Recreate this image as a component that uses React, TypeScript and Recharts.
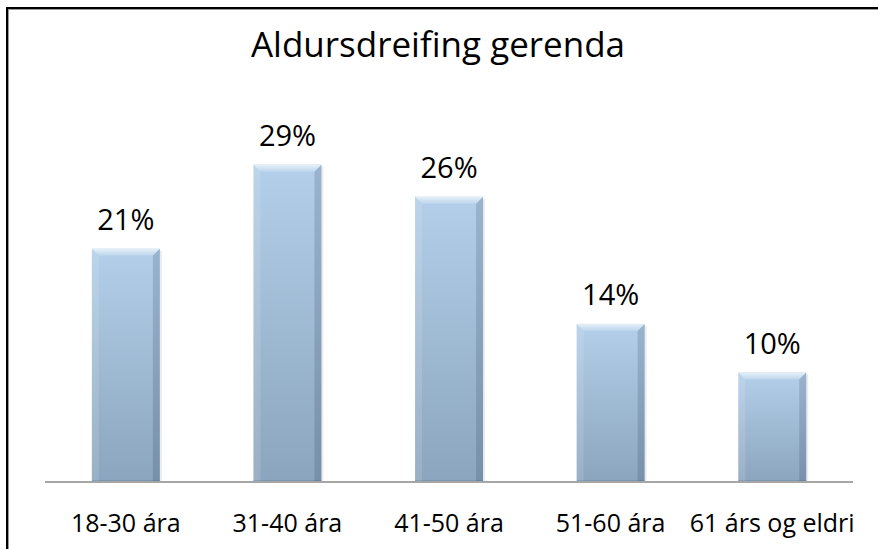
import React from "react";
import { BarChart, Bar, XAxis, YAxis, LabelList } from "recharts";

const categories = ["18-30 ára", "31-40 ára", "41-50 ára", "51-60 ára", "61 árs og eldri"];
const shares = [21.1, 28.7, 25.8, 14.3, 9.9];
const title = "Aldursdreifing gerenda";

const data = categories.map((c, i) => ({ name: c, value: shares[i] }));

const FONT = "'Open Sans', sans-serif";

const BevelBar = (props: any) => {
  const { x, y, width: w, height: h } = props;
  if (!h || h <= 0) return null;
  const b = 7;
  return (
    <g>
      <rect x={x + w} y={y + 2} width={2} height={h - 2} fill="rgba(0,0,0,0.08)" />
      <rect x={x} y={y} width={w} height={h} fill="url(#barBody)" />
      <polygon
        points={`${x},${y} ${x + w},${y} ${x + w - b},${y + b} ${x + b},${y + b}`}
        fill="url(#barTop)"
      />
      <polygon
        points={`${x},${y} ${x + b},${y + b} ${x + b},${y + h} ${x},${y + h}`}
        fill="rgba(255,255,255,0.12)"
      />
      <polygon
        points={`${x + w},${y} ${x + w - b},${y + b} ${x + w - b},${y + h} ${x + w},${y + h}`}
        fill="rgba(20,40,70,0.16)"
      />
      <rect x={x} y={y + h - 2} width={w} height={2} fill="rgba(20,40,70,0.12)" />
    </g>
  );
};

const ValueLabel = (props: any) => {
  const { x, y, width, value } = props;
  return (
    <text x={x + width / 2} y={y - 19} textAnchor="middle" fontFamily={FONT} fontSize={29} fill="#000">
      {Math.round(value)}%
    </text>
  );
};

const Tick = (props: any) => {
  const { x, y, payload } = props;
  return (
    <text x={x} y={y + 42} textAnchor="middle" fontFamily={FONT} fontSize={25} fill="#000">
      {payload.value}
    </text>
  );
};

export default function App() {
  return (
    <div style={{ position: "absolute", left: 0, top: 0, width: 878, height: 549, background: "#fff", overflow: "hidden" }}>
      <div
        style={{
          position: "absolute",
          left: 6,
          top: 7,
          width: 900,
          height: 600,
          borderTop: "2px solid #000",
          borderLeft: "2px solid #000",
        }}
      />
      <div
        style={{
          position: "absolute",
          left: 8,
          top: 9,
          width: 900,
          height: 600,
          borderTop: "1px solid #999",
          borderLeft: "1px solid #999",
        }}
      />
      <svg style={{ position: "absolute", left: 0, top: 0 }} width={878} height={549}>
        <text x={438} y={57} textAnchor="middle" fontFamily={FONT} fontSize={35} fill="#000">
          {title}
        </text>
      </svg>
      <div style={{ position: "absolute", left: 0, top: 0 }}>
        <BarChart
          width={878}
          height={549}
          data={data}
          margin={{ top: 95, right: 25, bottom: 27, left: 45 }}
          barCategoryGap="29%"
        >
          <defs>
            <linearGradient id="barBody" x1="0" y1="0" x2="0" y2="1">
              <stop offset="0%" stopColor="#b4cfe9" />
              <stop offset="100%" stopColor="#8ba5be" />
            </linearGradient>
            <linearGradient id="barTop" x1="0" y1="0" x2="0" y2="1">
              <stop offset="0%" stopColor="#e6f0f8" />
              <stop offset="100%" stopColor="#bcd5ec" />
            </linearGradient>
          </defs>
          <YAxis hide domain={[0, 35]} />
          <XAxis
            dataKey="name"
            height={40}
            axisLine={{ stroke: "#a6a6a6", strokeWidth: 2 }}
            tickLine={false}
            tick={<Tick />}
            interval={0}
          />
          <Bar dataKey="value" shape={<BevelBar />} isAnimationActive={false}>
            <LabelList dataKey="value" content={<ValueLabel />} />
          </Bar>
        </BarChart>
      </div>
    </div>
  );
}
